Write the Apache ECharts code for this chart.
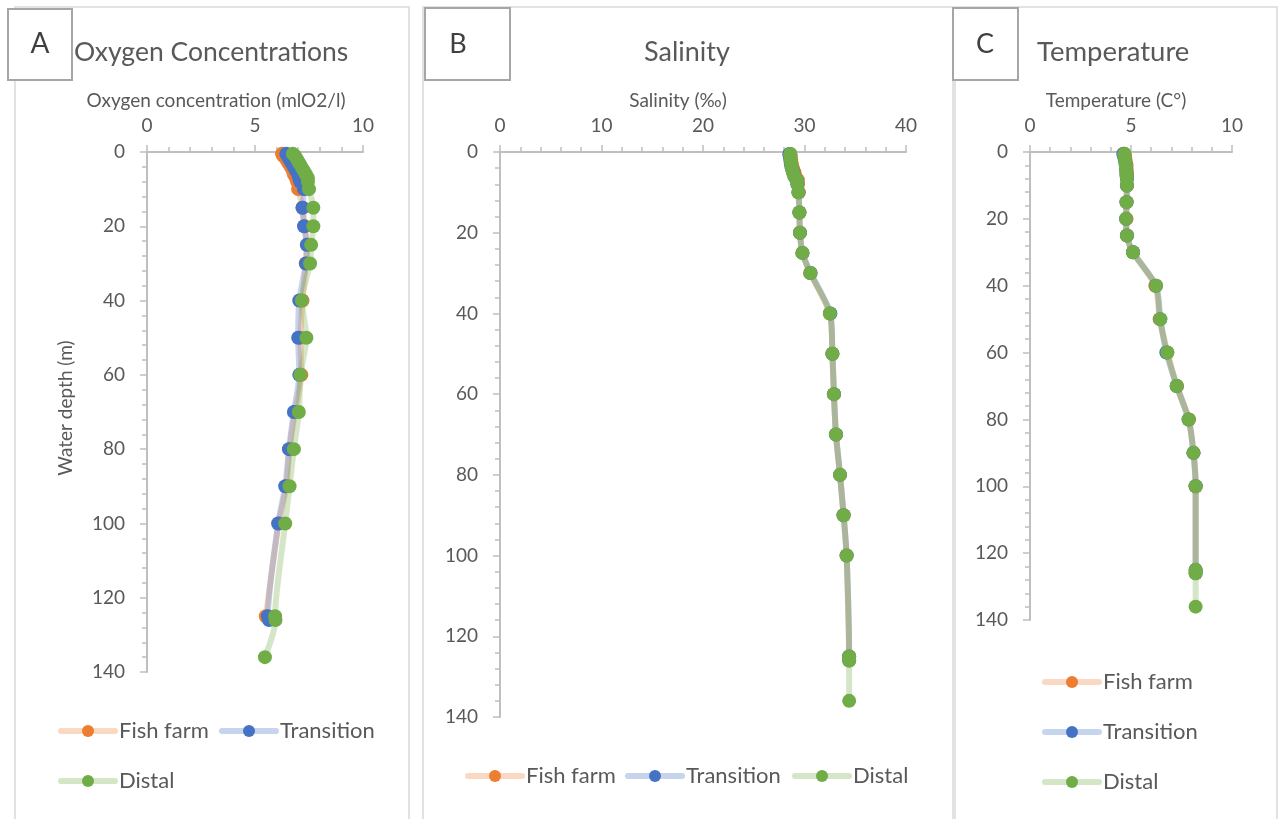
<!DOCTYPE html>
<html>
<head>
<meta charset="utf-8">
<script src="https://cdn.jsdelivr.net/npm/echarts@6/dist/echarts.min.js"></script>
<style>html,body{margin:0;padding:0;background:#fff}#c{width:1280px;height:819px}</style>
</head>
<body>
<div id="c"></div>
<script>
// ---- Data ----
const seriesNames = ['Fish farm', 'Transition', 'Distal'];
const depthFF = [0.5, 1, 2, 3, 4, 5, 6, 7, 8, 10, 15, 20, 25, 30, 40, 50, 60, 70, 80, 90, 100, 125];
const depthTR = [0.5, 1, 2, 3, 4, 5, 6, 7, 8, 10, 15, 20, 25, 30, 40, 50, 60, 70, 80, 90, 100, 125, 126];
const depthDI = [0.5, 1, 2, 3, 4, 5, 6, 7, 8, 10, 15, 20, 25, 30, 40, 50, 60, 70, 80, 90, 100, 125, 126, 136];

const oxyFF = [6.25, 6.3, 6.45, 6.55, 6.65, 6.75, 6.8, 6.9, 6.95, 7.0, 7.2, 7.3, 7.4, 7.35, 7.2, 7.1, 7.15, 6.85, 6.6, 6.45, 6.1, 5.5];
const oxyTR = [6.45, 6.5, 6.6, 6.7, 6.8, 6.9, 7.0, 7.05, 7.1, 7.27, 7.2, 7.27, 7.4, 7.36, 7.05, 7.0, 7.05, 6.8, 6.57, 6.4, 6.07, 5.6, 5.65];
const oxyDI = [6.75, 6.85, 6.95, 7.05, 7.15, 7.25, 7.35, 7.45, 7.45, 7.5, 7.7, 7.7, 7.6, 7.55, 7.17, 7.38, 7.1, 7.03, 6.8, 6.6, 6.4, 5.93, 5.95, 5.46];

const salFF = [28.6, 28.65, 28.7, 28.75, 28.85, 29.0, 29.1, 29.35, 29.35, 29.45, 29.5, 29.55, 29.8, 30.55, 32.5, 32.75, 32.9, 33.1, 33.5, 33.85, 34.15, 34.4];
const salTR = [28.5, 28.55, 28.6, 28.65, 28.75, 28.9, 29.0, 29.25, 29.3, 29.4, 29.5, 29.55, 29.8, 30.6, 32.55, 32.75, 32.9, 33.1, 33.5, 33.85, 34.15, 34.4, 34.4];
const salDI = [28.6, 28.6, 28.65, 28.7, 28.75, 28.85, 29.0, 29.25, 29.3, 29.4, 29.5, 29.55, 29.8, 30.6, 32.5, 32.75, 32.9, 33.1, 33.5, 33.85, 34.15, 34.4, 34.4, 34.4];

const tempFF = [4.67, 4.7, 4.72, 4.75, 4.78, 4.78, 4.8, 4.8, 4.8, 4.8, 4.78, 4.78, 4.8, 5.1, 6.2, 6.42, 6.8, 7.28, 7.87, 8.1, 8.2, 8.2];
const tempTR = [4.62, 4.64, 4.68, 4.72, 4.75, 4.75, 4.77, 4.78, 4.8, 4.8, 4.78, 4.75, 4.8, 5.1, 6.24, 6.45, 6.75, 7.26, 7.85, 8.09, 8.2, 8.2, 8.2];
const tempDI = [4.67, 4.67, 4.7, 4.72, 4.75, 4.75, 4.77, 4.78, 4.8, 4.8, 4.78, 4.75, 4.8, 5.1, 6.24, 6.45, 6.8, 7.26, 7.85, 8.09, 8.2, 8.2, 8.2, 8.2];

const oxyTicks = { min: 0, max: 10, interval: 5 };
const salTicks = { min: 0, max: 40, interval: 10 };
const tempTicks = { min: 0, max: 10, interval: 5 };
const depthTicks = { min: 0, max: 140, interval: 20 };

// ---- Styling ----
const colors = ['#ED7D31', '#4472C4', '#70AD47'];
const FONT = 'Lato, "Liberation Sans", sans-serif';
const TXT = '#595959';
const AXC = '#bfbfbf';

function pairs(xs, ys) { return xs.map((v, i) => [v, ys[i]]); }

function xAxisCfg(idx, t, name, shift) {
  return {
    type: 'value', gridIndex: idx, position: 'top',
    min: t.min, max: t.max, interval: t.interval,
    name: name, nameLocation: 'middle', nameGap: 42,
    nameTextStyle: { fontFamily: FONT, fontSize: 19, color: TXT, padding: [0, shift * 2, 0, 0] },
    axisLine: { show: true, lineStyle: { color: AXC, width: 2 } },
    axisTick: { show: true, length: 7, lineStyle: { color: AXC, width: 1.5 } },
    minorTick: { show: true, splitNumber: 5, length: 5, lineStyle: { color: AXC, width: 1.5 } },
    axisLabel: { fontFamily: FONT, fontSize: 19, color: TXT, margin: 17 },
    splitLine: { show: false }, minorSplitLine: { show: false }
  };
}
function yAxisCfg(idx, name) {
  return {
    type: 'value', gridIndex: idx, inverse: true,
    min: depthTicks.min, max: depthTicks.max, interval: depthTicks.interval,
    name: name || '', nameLocation: 'middle', nameGap: 72, nameRotate: 90,
    nameTextStyle: { fontFamily: FONT, fontSize: 19, color: TXT, padding: [0, 0, 0, 8] },
    axisLine: { show: true, onZero: false, lineStyle: { color: AXC, width: 2 } },
    axisTick: { show: true, length: 7, lineStyle: { color: AXC, width: 1.5 } },
    minorTick: { show: true, splitNumber: 5, length: 5, lineStyle: { color: AXC, width: 1.5 } },
    axisLabel: { fontFamily: FONT, fontSize: 19, color: TXT, margin: 22 },
    splitLine: { show: false }, minorSplitLine: { show: false }
  };
}
function mkSeries(idx, name, color, data, z) {
  return {
    type: 'line', name: name, xAxisIndex: idx, yAxisIndex: idx,
    data: data, smooth: 0.25, symbol: 'circle', symbolSize: 14, z: z,
    itemStyle: { color: color, opacity: 1 },
    lineStyle: { color: color, width: 6, opacity: 0.3, cap: 'round' },
    emphasis: { disabled: true }
  };
}

const series = [];
const panels = [
  [depthFF, depthTR, depthDI, oxyFF, oxyTR, oxyDI],
  [depthFF, depthTR, depthDI, salFF, salTR, salDI],
  [depthFF, depthTR, depthDI, tempFF, tempTR, tempDI]
];
panels.forEach((p, idx) => {
  for (let k = 0; k < 3; k++) {
    series.push(mkSeries(idx, seriesNames[k], colors[k], pairs(p[3 + k], p[k]), 2 + k));
  }
});

const legendText = { fontFamily: FONT, fontSize: 22, color: TXT, padding: [0, 0, 0, -1] };
function legendCfg(name, left, centerY) {
  return {
    data: [name], left: left, top: centerY - 13,
    itemWidth: 54, itemHeight: 15, itemGap: 0,
    lineStyle: { width: 6, opacity: 0.3, cap: 'round' },
    textStyle: legendText, selectedMode: false, padding: 0
  };
}

const option = {
  animation: false,
  backgroundColor: '#fff',
  grid: [
    { left: 147, top: 152, width: 216, height: 520 },
    { left: 500, top: 152, width: 406, height: 565 },
    { left: 1030, top: 152, width: 202, height: 468 }
  ],
  xAxis: [
    xAxisCfg(0, oxyTicks, 'Oxygen concentration (mlO2/l)', 39),
    xAxisCfg(1, salTicks, 'Salinity (‰)', 25),
    xAxisCfg(2, tempTicks, 'Temperature (C°)', 15)
  ],
  yAxis: [yAxisCfg(0, 'Water depth (m)'), yAxisCfg(1), yAxisCfg(2)],
  legend: [
    legendCfg('Fish farm', 58, 733),
    legendCfg('Transition', 219, 733),
    legendCfg('Distal', 58, 783),
    legendCfg('Fish farm', 465, 778),
    legendCfg('Transition', 625, 778),
    legendCfg('Distal', 792, 778),
    legendCfg('Fish farm', 1042, 684),
    legendCfg('Transition', 1042, 734),
    legendCfg('Distal', 1042, 784)
  ],
  series: series,
  graphic: [
    { type: 'rect', shape: { x: 15, y: 7, width: 394, height: 840 }, style: { fill: 'none', stroke: '#d9d9d9', lineWidth: 1.5 }, silent: true },
    { type: 'rect', shape: { x: 423, y: 7, width: 530, height: 840 }, style: { fill: 'none', stroke: '#d9d9d9', lineWidth: 1.5 }, silent: true },
    { type: 'rect', shape: { x: 955, y: 7, width: 322, height: 840 }, style: { fill: 'none', stroke: '#d9d9d9', lineWidth: 1.5 }, silent: true },

    { type: 'rect', shape: { x: 8, y: 9, width: 64, height: 71 }, style: { fill: '#fff', stroke: '#a6a6a6', lineWidth: 2 }, z: 10 },
    { type: 'text', x: 40, y: 44, z: 11, style: { text: 'A', fontFamily: FONT, fontSize: 28, fill: '#404040', align: 'center', verticalAlign: 'middle' } },
    { type: 'text', x: 74, y: 52, z: 11, style: { text: 'Oxygen Concentrations', fontFamily: FONT, fontSize: 26.5, fill: TXT, align: 'left', verticalAlign: 'middle' } },

    { type: 'rect', shape: { x: 425, y: 8, width: 85, height: 72 }, style: { fill: '#fff', stroke: '#a6a6a6', lineWidth: 2 }, z: 10 },
    { type: 'text', x: 458, y: 44, z: 11, style: { text: 'B', fontFamily: FONT, fontSize: 27, fill: '#404040', align: 'center', verticalAlign: 'middle' } },
    { type: 'text', x: 687, y: 52, z: 11, style: { text: 'Salinity', fontFamily: FONT, fontSize: 27, fill: TXT, align: 'center', verticalAlign: 'middle' } },

    { type: 'rect', shape: { x: 953, y: 8, width: 65, height: 72 }, style: { fill: '#fff', stroke: '#a6a6a6', lineWidth: 2 }, z: 10 },
    { type: 'text', x: 985, y: 44, z: 11, style: { text: 'C', fontFamily: FONT, fontSize: 27, fill: '#404040', align: 'center', verticalAlign: 'middle' } },
    { type: 'text', x: 1037, y: 52, z: 11, style: { text: 'Temperature', fontFamily: FONT, fontSize: 27.5, fill: TXT, align: 'left', verticalAlign: 'middle' } }
  ]
};

const chart = echarts.init(document.getElementById('c'), null, { renderer: 'canvas' });
chart.setOption(option);
</script>
</body>
</html>
